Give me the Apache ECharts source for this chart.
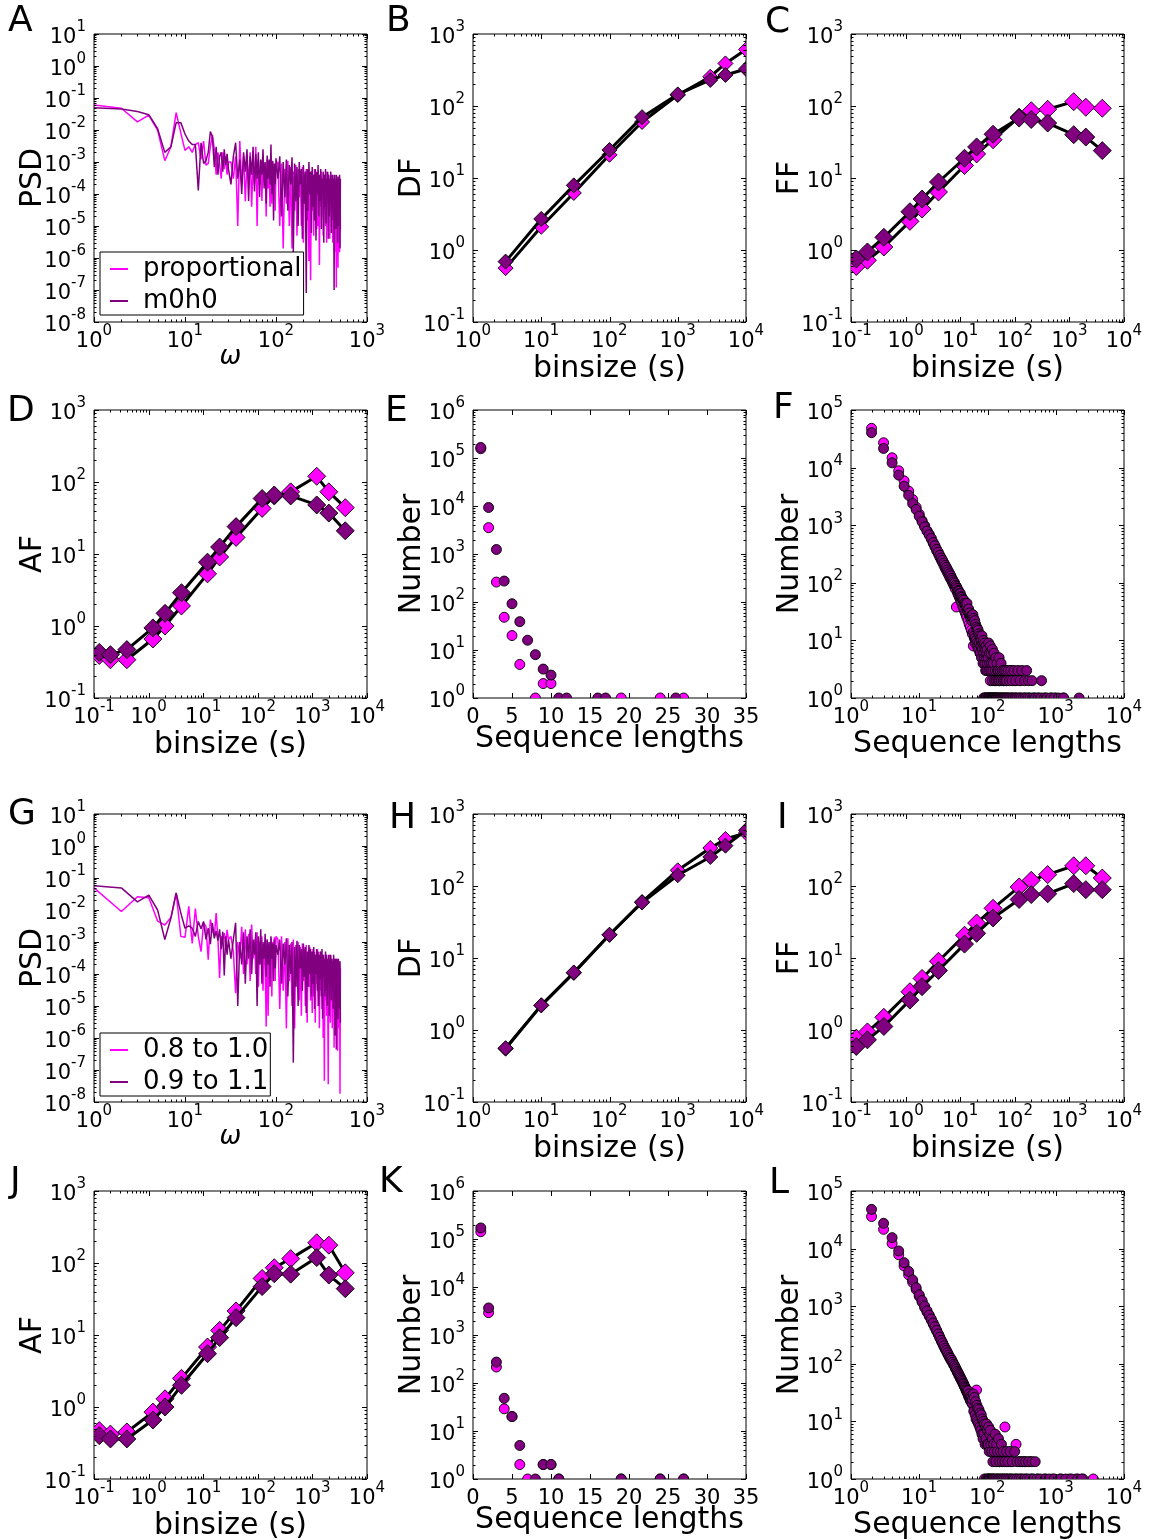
<!DOCTYPE html>
<html>
<head>
<meta charset="utf-8">
<title>Burst statistics</title>
<script src="https://cdn.jsdelivr.net/npm/echarts@6.0.0/dist/echarts.min.js"></script>
<style>
  html, body { margin: 0; padding: 0; background: #fff; }
  #chart { width: 1149px; height: 1540px; }
</style>
</head>
<body>
<div id="chart"></div>
<script>
// ---------------- values ----------------
// Power spectra: frequency grid shared by all four spectra
const psdOmega = [
  1,2,3,4,5,6,7,8,9,10,11,12,13,14,15,16,17,18,19,20,21,22,23,24,25,26,27,28,29,30,
  32,34,36,38,40,42,44,46,48,50,52,54,56,58,60,62,64,66,68,70,72,74,76,78,80,82,84,86,88,90,92,94,96,98,100,
  105,110,115,120,125,130,135,140,145,150,155,160,165,170,175,180,185,190,195,200,
  205,210,215,220,225,230,235,240,245,250,255,260,265,270,275,280,285,290,295,300,
  305,310,315,320,325,330,335,340,345,350,355,360,365,370,375,380,385,390,395,400,
  405,410,415,420,425,430,435,440,445,450,455,460,465,470,475,480,485,490,495,500,505,510
];
const psdProportional = [
  0.06,0.048,0.018,0.029,0.01,0.0011,0.003,0.035,0.008,0.0023,
  0.003,0.002,0.0035,0.004,0.0012,0.0045,0.0008,0.0009,0.003,0.007,
  0.0025,0.0004,0.002,0.0009,0.0003,0.002,0.0006,0.0015,0.0004,0.001,
  1e-3,3e-4,1.5e-3,1e-5,4.5e-3,2e-4,1.5e-3,6e-5,1e-3,3e-4,2e-3,4e-5,1e-3,2e-4,3e-3,1e-5,1.2e-3,2e-4,8e-4,6e-5,
  1.5e-3,3e-4,9e-4,2e-5,1.2e-3,1.5e-4,7e-4,4e-5,1e-3,5e-5,1e-3,2e-4,6e-4,3e-5,8e-4,
  1e-3,1e-5,9e-4,2e-6,6e-4,5e-5,1.1e-3,1e-5,7e-4,2e-6,
  5e-4,3e-5,8e-4,5e-6,6e-4,8e-5,5e-4,1e-5,7e-4,3e-6,
  4e-4,5e-5,6e-4,1.5e-5,5e-4,8e-7,3e-4,2e-7,5e-4,3e-5,
  4e-4,5e-6,6e-4,4e-5,3e-4,8e-6,5e-4,1e-5,4e-4,6e-7,
  3e-4,4e-5,5e-4,2e-5,3e-4,5e-6,4e-4,1e-4,2e-4,1e-5,
  5e-4,3e-6,3e-4,5e-5,4e-4,2e-5,2.5e-4,4e-6,3e-4,7e-5,
  4e-4,1e-5,2e-4,3e-6,3e-4,4e-5,2.5e-4,1.5e-6,3e-4,1e-5,
  2e-4,1.2e-7,3e-4,3e-5,2e-4,5e-7,3e-4,2e-5,3e-4,1.5e-6,
  2e-4,8e-6
];
const psdM0h0 = [
  0.05,0.045,0.038,0.03,0.011,0.002,0.003,0.017,0.017,0.0075,
  0.0045,0.0035,0.0035,0.00013,0.004,0.0009,0.0011,0.002,0.009,0.006,
  0.0007,0.003,0.0004,0.0015,0.002,0.0005,0.0025,0.0008,0.0018,0.0006,
  2e-4,1.5e-3,4e-3,3e-4,1.2e-3,1e-4,2e-3,5e-4,2.5e-3,6e-5,1.5e-3,4e-4,3e-3,1.2e-4,1.8e-3,3e-4,2e-3,8e-5,1.2e-3,4e-4,
  2.5e-3,1.5e-4,1e-3,5e-5,1.6e-3,3e-4,1.2e-3,2e-4,3.5e-3,1e-4,1.1e-3,1.5e-5,9e-4,2e-4,1.3e-3,
  3e-4,1.5e-3,2e-5,1e-3,8e-5,1.2e-3,3e-5,8e-4,2e-4,1.4e-3,
  1.5e-6,9e-4,6e-5,7e-4,1e-5,1e-3,2e-4,6e-4,4e-6,8e-4,
  5e-5,5e-4,8e-8,6e-4,3e-5,1e-3,1e-4,5e-4,6e-6,7e-4,
  4e-5,4e-4,1.5e-5,6e-4,3.5e-6,5e-4,1e-4,8e-4,2e-5,4e-4,
  6e-5,6e-4,8e-6,3e-4,1e-4,5e-4,3e-6,4e-4,4e-5,6e-4,
  1.2e-5,3e-4,7e-5,5e-4,4e-6,4e-4,2e-5,3e-4,8e-5,5e-4,
  6e-6,3e-4,3e-5,4e-4,1.5e-5,3e-4,1e-7,4e-4,5e-5,2.5e-4,
  8e-6,4e-4,2e-5,3e-4,3e-6,3.5e-4,6e-5,2.5e-4,1e-5,4e-4,
  2e-6,3e-4
];
const psdRange08 = [
  0.049,0.009,0.026,0.024,0.0045,0.0034,0.0058,0.034,0.0015,0.0014,
  0.013,0.0009,0.011,0.0015,0.0005,0.0039,0.0031,0.00028,0.005,0.0024,
  0.0015,0.008,0.0013,0.000075,0.0015,0.0012,0.0019,0.0007,0.0024,0.0012,
  1.5e-3,5e-4,2.5e-5,1e-3,3e-4,3e-3,1e-4,2.5e-3,2e-4,1.8e-3,6e-5,3.5e-3,3e-4,1.2e-3,1e-4,2e-3,4e-5,1e-3,2e-4,1.5e-3,
  3e-5,8e-4,2e-4,2.3e-6,1.2e-3,5e-6,9e-4,1e-4,1.3e-3,2e-5,1e-3,3e-4,1.4e-3,6e-5,1.5e-3,
  1.2e-3,8e-6,1.5e-3,3e-5,1e-3,2e-6,1.3e-3,6e-5,9e-4,1e-5,
  1.2e-3,2e-6,8e-4,4e-5,1e-3,1.5e-5,7e-4,5e-6,9e-4,6e-5,
  6e-4,1e-5,8e-4,3e-6,5e-4,4e-5,7e-4,1.5e-5,4e-4,6e-6,
  6e-4,2e-5,5e-4,3e-6,4e-4,5e-5,6e-4,1e-5,3e-4,2e-6,
  5e-4,3e-5,4e-4,8e-6,3e-4,1e-6,4e-4,4.6e-8,3e-4,1.5e-5,
  4e-4,5e-6,3e-4,2e-5,3.6e-8,3e-4,1e-5,4e-4,3e-6,3e-4,
  4e-5,3e-4,2e-6,2.5e-4,1e-5,3e-4,5e-7,2e-4,2e-5,3e-4,
  3e-6,2.5e-4,1e-5,3e-4,4e-7,2e-4,3e-5,2.5e-4,2e-6,2e-4,
  1.8e-8,1.5e-4
];
const psdRange09 = [
  0.057,0.049,0.018,0.029,0.01,0.0012,0.0056,0.034,0.008,0.0027,
  0.0032,0.0027,0.0015,0.0044,0.0026,0.0044,0.0012,0.0027,0.00085,0.0039,
  0.0013,0.0022,0.0011,0.0025,0.0006,0.0021,0.00009,0.0015,0.0004,0.0012,
  3e-4,1.2e-3,4e-3,1e-5,1e-3,2e-4,2e-3,5e-5,1.5e-3,3e-4,2.5e-3,1e-4,1.2e-3,4e-4,2e-3,1e-5,1.5e-3,2e-4,2.5e-3,5e-5,
  1e-3,3e-4,1.8e-3,8e-5,1.2e-3,2e-4,1e-3,4e-5,1.5e-3,3e-4,9e-4,6e-5,1.2e-3,1.5e-4,8e-4,
  4e-4,1.2e-3,5e-5,9e-4,2e-4,1.3e-3,2e-5,8e-4,1e-4,1e-3,
  1.7e-7,7e-4,4e-5,1.1e-3,1e-5,8e-4,1.5e-4,6e-4,3e-5,9e-4,
  8e-5,7e-4,6e-6,5e-4,4e-5,8e-4,1e-4,6e-4,2e-5,5e-4,
  5e-5,7e-4,8e-6,4e-4,1e-4,6e-4,3e-5,5e-4,1e-5,4e-4,
  7e-5,5e-4,2e-5,6e-4,4e-6,4e-4,8e-5,3e-4,2e-5,5e-4,
  3e-5,4e-4,1e-5,3e-4,6e-5,4e-4,5e-6,3e-4,4e-5,4e-4,
  1.5e-5,3e-4,6e-5,2.5e-4,8e-6,4e-4,3e-5,3e-4,1.2e-6,3e-4,
  2e-5,4.4e-7,3e-4,3e-5,2.5e-4,4e-6,3e-4,2e-5,2e-4,8e-6,
  2.5e-4,3e-6
];

// Dispersion (DF) against bin size
const dfBins = [3, 10, 30, 100, 300, 1000, 3000, 5000, 10000];
const dfProportional = [0.56, 2.1, 6.2, 21, 60, 142, 255, 390, 610];
const dfM0h0         = [0.69, 2.7, 7.9, 24.5, 70, 145, 230, 270, 327];
const dfRange08      = [0.55, 2.2, 6.2, 21, 60, 165, 337, 450, 545];
const dfRange09      = [0.56, 2.2, 6.3, 21, 59, 141, 253, 363, 593];

// Fano (FF) and Allan (AF) factors against bin size
const fBins = [0.125, 0.2, 0.4, 1.2, 2, 4, 12, 20, 40, 120, 200, 400, 1200, 2000, 4000];
const ffProportional = [0.59, 0.72, 1.1, 2.5, 3.7, 6.4, 14.9, 21.6, 34, 70, 86, 90, 115, 96, 93];
const ffM0h0         = [0.75, 0.94, 1.5, 3.4, 5.1, 8.8, 18.8, 27, 40.5, 68, 65, 58, 40, 37, 24];
const afProportional = [0.39, 0.34, 0.34, 0.66, 1.0, 1.9, 5.3, 9.1, 17, 43, 64, 73, 120, 73, 44];
const afM0h0         = [0.43, 0.40, 0.47, 0.94, 1.5, 2.9, 7.7, 12.5, 24, 59, 66, 64, 48, 37, 21];
const ffRange08      = [0.77, 0.94, 1.5, 3.4, 5.2, 9.0, 20.7, 30.6, 49, 97, 120, 144, 191, 191, 129];
const ffRange09      = [0.59, 0.73, 1.12, 2.6, 4.0, 6.7, 15.6, 22, 36, 65, 76, 78, 108, 89, 89];
const afRange08      = [0.47, 0.42, 0.45, 0.85, 1.3, 2.5, 6.8, 11.6, 21.6, 61, 86, 115, 191, 177, 73];
const afRange09      = [0.40, 0.36, 0.36, 0.66, 1.0, 2.0, 5.5, 9.2, 17.4, 47, 71, 70, 119, 68, 44];

// Sequence-length histograms, [length, number]
const seqShortProportional = [[1,156000],[2,3540],[3,260],[4,48],[5,20],[6,5],[8,1],[9,2],[10,2],[19,1],[24,1],[27,1]];
const seqShortM0h0 = [[1,166000],[2,9300],[3,1240],[4,273],[5,92],[6,39],[7,16],[8,8],[9,4],[10,3],[11,1],[12,1],[16,1],[17,1],[26,1]];
const seqShortRange08 = [[1,142000],[2,2920],[3,215],[4,29],[5,20],[6,2],[7,1],[9,2],[10,2],[11,1],[19,1],[24,1],[27,1]];
const seqShortRange09 = [[1,170000],[2,3660],[3,273],[4,48],[5,20],[6,5],[8,1],[9,2],[10,2],[11,1],[19,1],[24,1],[27,1]];

const seqLongProportional = [
  [2,48000],[3,27000],[4,14800],[5,8800],[6,5900],[7,3900],[8,2800],[9,2050],[10,1550],[11,1200],[12,980],[13,800],[14,690],[15,580],
  [16,490],[17,420],[18,360],[19,320],[20,280],[21,250],[22,225],[23,200],[24,180],[25,165],[26,150],[27,138],[28,125],[29,118],[30,108],
  [31,100],[32,92],[33,85],[34,78],[35,38],[36,70],[37,64],[38,60],[39,55],[40,52],[41,48],[42,45],[43,41],[44,38],[45,36],[46,33],[47,31],
  [48,29],[49,27],[50,25],[52,22],[54,19],[56,17],[58,15],[60,13],[62,8],[64,11],[66,9],[68,12],[70,8],[72,10],[75,7],[78,6],[80,9],
  [83,5],[86,7],[90,4],[95,6],[100,3],[105,5],[110,2],[115,4],[120,3],[130,2],[140,3],[150,2],[170,2],[190,2],[220,3],[250,2],[300,2],
  [90,1],[95,1],[100,1],[110,1],[125,1],[140,1],[160,1],[180,1],[200,1],[230,1],[260,1],[300,1],[350,1],[400,1],[480,1],[560,1],[700,1],
  [850,1],[1000,1],[1300,1]
];
const seqLongM0h0 = [
  [2,40400],[3,21500],[4,12100],[5,7400],[6,4760],[7,3300],[8,2380],[9,1870],[10,1430],[11,1150],[12,935],[13,790],[14,680],[15,590],
  [16,500],[17,440],[18,380],[19,340],[20,300],[21,270],[22,245],[23,220],[24,200],[25,185],[26,168],[27,155],[28,143],[29,133],[30,120],
  [31,112],[32,104],[33,99],[34,90],[35,86],[36,80],[37,74],[38,71],[39,66],[40,65],[41,58],[42,56],[43,52],[44,49],[45,50],[46,44],
  [47,41],[48,43],[49,37],[50,44],[51,34],[52,31],[53,35],[54,28],[55,30],[56,26],[57,24],[58,27],[59,22],[60,25],
  [61,28],[62,14],[63,24],[64,12],[65,22],[66,11],[67,19],[68,10],[69,17],[70,9],[71,16],[72,8],[73,15],[74,7],[75,13],[76,9],
  [77,12],[78,6],[79,11],[80,8],[81,10],[82,5],[83,12],[84,7],[85,9],[86,4],[87,10],[88,6],[89,8],[90,5],[91,9],[92,4],[93,7],[94,3],
  [95,8],[96,5],[97,6],[98,3],[99,7],[100,4],
  [102,5],[104,9],[105,3],[107,6],[108,4],[110,8],[112,3],[113,6],[115,4],[117,2],[118,7],[120,3],[122,4],[125,6],[127,2],[130,3],
  [132,5],[135,2],[138,4],[140,3],[143,2],[145,3],[148,5],[150,2],[155,3],[158,4],[160,2],[165,3],[170,2],[175,3],[180,2],[185,3],
  [190,2],[200,3],[210,2],[220,3],[230,2],[245,3],[260,2],[280,3],[300,2],[320,3],[350,2],[375,3],[400,2],[450,2],[620,2],
  [88,1],[92,1],[96,1],[101,1],[103,1],[106,1],[109,1],[111,1],[114,1],[116,1],[119,1],[121,1],[124,1],[128,1],[131,1],[134,1],
  [137,1],[142,1],[146,1],[151,1],[156,1],[162,1],[168,1],[174,1],[181,1],[188,1],[195,1],[205,1],[215,1],[228,1],[240,1],[255,1],
  [270,1],[290,1],[310,1],[335,1],[360,1],[390,1],[420,1],[460,1],[500,1],[550,1],[610,1],[680,1],[750,1],[850,1],[950,1],[1100,1],
  [1300,1],[2200,1]
];
const seqLongRange08 = [
  [2,36000],[3,21600],[4,12300],[5,7800],[6,5000],[7,3500],[8,2600],[9,1950],[10,1480],[11,1180],[12,950],[13,790],[14,670],[15,575],
  [16,490],[17,425],[18,370],[19,325],[20,285],[21,250],[22,225],[23,200],[24,180],[25,165],[26,150],[27,138],[28,127],[29,118],[30,110],
  [32,95],[34,82],[36,72],[38,63],[40,56],[42,50],[44,45],[46,40],[48,36],[50,32],[53,27],[56,23],[60,20],[64,17],[69,35],[70,14],
  [75,11],[80,8],[85,10],[90,6],[95,8],[100,5],[110,4],[120,6],[130,3],[140,5],[150,2],[170,3],[180,8],[190,2],[220,2],[262,4],[300,2],
  [350,2],[420,2],
  [90,1],[105,1],[120,1],[140,1],[165,1],[190,1],[220,1],[260,1],[310,1],[370,1],[450,1],[550,1],[700,1],[900,1],[1200,1],[1600,1],
  [2000,1],[2500,1],[3550,1]
];
const seqLongRange09 = [
  [2,48000],[3,27500],[4,15500],[5,9100],[6,5700],[7,4000],[8,2850],[9,2100],[10,1570],[11,1250],[12,1000],[13,830],[14,700],[15,600],
  [16,510],[17,440],[18,380],[19,330],[20,290],[21,255],[22,230],[23,205],[24,185],[25,170],[26,155],[27,142],[28,130],[29,124],[30,115],
  [31,106],[32,98],[33,92],[34,85],[35,80],[36,74],[37,70],[38,66],[39,62],[40,58],[41,55],[42,52],[43,49],[44,46],[45,44],[46,41],
  [47,39],[48,37],[49,35],[50,33],[51,31],[52,34],[53,28],[54,30],[55,25],[56,27],[57,23],[58,26],[59,21],[60,24],
  [62,30],[63,15],[64,26],[66,13],[67,22],[68,11],[70,19],[71,10],[72,17],[74,9],[75,16],[77,8],[78,14],[80,7],[81,13],[83,6],
  [84,11],[86,5],[87,10],[89,6],[90,9],[92,4],[94,8],[95,5],[97,9],[99,4],[100,7],
  [102,4],[104,8],[106,3],[108,6],[110,7],[112,4],[115,3],[118,5],[120,2],[123,4],[126,3],[130,6],[133,2],[136,4],[140,3],[145,5],
  [150,2],[155,3],[160,4],[165,2],[170,3],[180,2],[190,3],[200,2],[215,3],[230,2],[250,3],[270,2],[300,2],[330,2],[360,2],[400,2],
  [450,2],[500,2],
  [95,1],[100,1],[103,1],[107,1],[111,1],[116,1],[121,1],[127,1],[134,1],[142,1],[149,1],[158,1],[167,1],[177,1],[188,1],[200,1],
  [214,1],[230,1],[248,1],[268,1],[290,1],[315,1],[345,1],[380,1],[420,1],[470,1],[530,1],[600,1],[700,1],[800,1],[950,1],[1150,1],
  [1400,1],[1700,1],[2100,1],[2400,1]
];

// ---------------- styling ----------------
const FONT = 'DejaVu Sans';
const PINK = '#ff00ff';
const PURPLE = '#800080';
const MAJOR_TICK = 5;
const MINOR_TICK = 2.5;

const COL_X = [94, 473, 851];
const ROW_Y = [34, 410, 814, 1191];
const PLOT_W = 273;
const PLOT_H = 288;

const AXES = {
  psd:    { x: [1, 1000],  y: [1e-8, 10],  xName: 'ω', yName: 'PSD', nameGap: 22 },
  df:     { x: [1, 1e4],   y: [0.1, 1000], xName: 'binsize (s)', yName: 'DF', nameGap: 32 },
  ff:     { x: [0.1, 1e4], y: [0.1, 1000], xName: 'binsize (s)', yName: 'FF', nameGap: 32 },
  af:     { x: [0.1, 1e4], y: [0.1, 1000], xName: 'binsize (s)', yName: 'AF', nameGap: 32 },
  seq:    { x: [0, 35],    y: [1, 1e6],    xName: 'Sequence lengths', yName: 'Number', linearX: true, step: 5, nameGap: 26 },
  seqLog: { x: [1, 1e4],   y: [1, 1e5],    xName: 'Sequence lengths', yName: 'Number', nameGap: 31 }
};

// panel letter, axes kind, column, row, letter anchor
const PANELS = [
  { letter: 'A', kind: 'psd',    col: 0, row: 0, lx: 8,   ly: 4 },
  { letter: 'B', kind: 'df',     col: 1, row: 0, lx: 386, ly: 4 },
  { letter: 'C', kind: 'ff',     col: 2, row: 0, lx: 765, ly: 5 },
  { letter: 'D', kind: 'af',     col: 0, row: 1, lx: 7,   ly: 394 },
  { letter: 'E', kind: 'seq',    col: 1, row: 1, lx: 385, ly: 394 },
  { letter: 'F', kind: 'seqLog', col: 2, row: 1, lx: 773, ly: 391 },
  { letter: 'G', kind: 'psd',    col: 0, row: 2, lx: 8,   ly: 797 },
  { letter: 'H', kind: 'df',     col: 1, row: 2, lx: 389, ly: 801 },
  { letter: 'I', kind: 'ff',     col: 2, row: 2, lx: 777, ly: 801 },
  { letter: 'J', kind: 'af',     col: 0, row: 3, lx: 10,  ly: 1165 },
  { letter: 'K', kind: 'seq',    col: 1, row: 3, lx: 379, ly: 1165 },
  { letter: 'L', kind: 'seqLog', col: 2, row: 3, lx: 769, ly: 1166 }
];

const labelRich = {
  b: { fontSize: 21, lineHeight: 28, fontFamily: FONT, color: '#000', verticalAlign: 'bottom' },
  s: { fontSize: 15, lineHeight: 15, fontFamily: FONT, color: '#000', verticalAlign: 'top' }
};
const logLabel = v => '{b|10}{s|' + Math.round(Math.log10(v)) + '}';
const plainLabel = v => '{b|' + v + '}';

function logTicks(range) {
  const out = [];
  const lo = Math.floor(Math.log10(range[0]) + 1e-9);
  const hi = Math.ceil(Math.log10(range[1]) - 1e-9);
  for (let d = lo; d <= hi; d++) {
    for (let k = 1; k <= 9; k++) {
      const v = k * Math.pow(10, d);
      if (v < range[0] * (1 - 1e-9) || v > range[1] * (1 + 1e-9)) continue;
      out.push({ v, major: k === 1 });
    }
  }
  return out;
}
function linearTicks(range, step) {
  const out = [];
  for (let v = range[0]; v <= range[1] + 1e-9; v += step) out.push({ v, major: true });
  return out;
}

// ticks on all four sides of a frame, placed through the axis scales
function tickSeries(gi, ax) {
  return {
    type: 'custom', name: 'frame ticks ' + gi, xAxisIndex: gi, yAxisIndex: gi,
    data: [[ax.x[0], ax.y[0]]], encode: { x: 0, y: 1 },
    clip: false, silent: true, z: 10,
    renderItem: (params, api) => {
      const cs = params.coordSys;
      const left = cs.x, right = cs.x + cs.width, top = cs.y, bottom = cs.y + cs.height;
      const children = [];
      const seg = (x1, y1, x2, y2) => children.push({
        type: 'line', shape: { x1, y1, x2, y2 }, style: { stroke: '#000', lineWidth: 1 }
      });
      const xt = ax.linearX ? linearTicks(ax.x, ax.step) : logTicks(ax.x);
      xt.forEach(t => {
        const px = Math.round(api.coord([t.v, ax.y[0]])[0]) + 0.5;
        const L = t.major ? MAJOR_TICK : MINOR_TICK;
        seg(px, bottom, px, bottom - L);
        seg(px, top, px, top + L);
      });
      logTicks(ax.y).forEach(t => {
        const py = Math.round(api.coord([ax.x[0], t.v])[1]) + 0.5;
        const L = t.major ? MAJOR_TICK : MINOR_TICK;
        seg(left, py, left + L, py);
        seg(right, py, right - L, py);
      });
      return { type: 'group', children };
    }
  };
}

// filled markers (diamonds / circles) clipped to the frame
function markerSeries(gi, name, pts, color, shape, size, z) {
  return {
    type: 'custom', name, xAxisIndex: gi, yAxisIndex: gi,
    data: pts, encode: { x: 0, y: 1 }, clip: true, silent: true, z,
    renderItem: (params, api) => {
      const p = api.coord([api.value(0), api.value(1)]);
      const h = size / 2;
      const style = { fill: color, stroke: '#000', lineWidth: 0.9 };
      if (shape === 'diamond') {
        return { type: 'polygon', shape: { points: [[p[0], p[1] - h], [p[0] + h, p[1]], [p[0], p[1] + h], [p[0] - h, p[1]]] }, style };
      }
      return { type: 'circle', shape: { cx: p[0], cy: p[1], r: h }, style };
    }
  };
}

function linkSeries(gi, name, xs, ys, z) {
  return {
    type: 'line', name, xAxisIndex: gi, yAxisIndex: gi,
    data: xs.map((x, i) => [x, ys[i]]),
    symbol: 'none', silent: true, clip: true, z,
    lineStyle: { color: '#000', width: 3 }, itemStyle: { color: '#000' }
  };
}

function spectrumSeries(gi, name, ys, color, z) {
  return {
    type: 'line', name, xAxisIndex: gi, yAxisIndex: gi,
    data: psdOmega.map((w, i) => [w, ys[i]]),
    symbol: 'none', silent: true, clip: true, z,
    lineStyle: { color, width: 1.5 }, itemStyle: { color }
  };
}

const grids = [], xAxes = [], yAxes = [], titles = [], series = [];

PANELS.forEach((p, gi) => {
  const ax = AXES[p.kind];
  grids.push({
    left: COL_X[p.col], top: ROW_Y[p.row], width: PLOT_W, height: PLOT_H,
    show: true, borderColor: '#000', borderWidth: 1, backgroundColor: 'transparent',
    containLabel: false, outerBoundsMode: 'none'
  });
  const isOmega = p.kind === 'psd';
  xAxes.push({
    gridIndex: gi,
    type: ax.linearX ? 'value' : 'log', logBase: 10,
    min: ax.x[0], max: ax.x[1], interval: ax.linearX ? ax.step : undefined,
    name: ax.xName, nameLocation: 'middle', nameGap: ax.nameGap, nameMoveOverlap: false,
    nameTextStyle: { fontSize: isOmega ? 26 : 30, fontStyle: isOmega ? 'italic' : 'normal', fontFamily: FONT, color: '#000' },
    axisLine: { show: false }, axisTick: { show: false }, minorTick: { show: false },
    splitLine: { show: false }, minorSplitLine: { show: false },
    axisLabel: {
      show: true, margin: 2, showMinLabel: true, showMaxLabel: true, hideOverlap: false,
      formatter: ax.linearX ? plainLabel : logLabel, rich: labelRich
    }
  });
  yAxes.push({
    gridIndex: gi, type: 'log', logBase: 10, min: ax.y[0], max: ax.y[1],
    name: ax.yName, nameLocation: 'middle', nameGap: 46, nameRotate: 90, nameMoveOverlap: false,
    nameTextStyle: { fontSize: 30, fontFamily: FONT, color: '#000' },
    axisLine: { show: false }, axisTick: { show: false }, minorTick: { show: false },
    splitLine: { show: false }, minorSplitLine: { show: false },
    axisLabel: {
      show: true, margin: 8, showMinLabel: true, showMaxLabel: true, hideOverlap: false,
      formatter: logLabel, rich: labelRich
    }
  });
  titles.push({
    text: p.letter, left: p.lx, top: p.ly, padding: 0,
    textStyle: { fontSize: 36, fontWeight: 'normal', fontFamily: FONT, color: '#000' }
  });
  series.push(tickSeries(gi, ax));
});

// A, G: power spectra
series.push(spectrumSeries(0, 'proportional', psdProportional, PINK, 2));
series.push(spectrumSeries(0, 'm0h0', psdM0h0, PURPLE, 3));
series.push(spectrumSeries(6, '0.8 to 1.0', psdRange08, PINK, 2));
series.push(spectrumSeries(6, '0.9 to 1.1', psdRange09, PURPLE, 3));

// B, C, D, H, I, J: factor curves with diamonds
function factorPanel(gi, xs, pinkVals, purpleVals, size, tag) {
  series.push(linkSeries(gi, tag + ' pink link', xs, pinkVals, 2));
  series.push(markerSeries(gi, tag + ' pink', xs.map((x, i) => [x, pinkVals[i]]), PINK, 'diamond', size, 3));
  series.push(linkSeries(gi, tag + ' purple link', xs, purpleVals, 4));
  series.push(markerSeries(gi, tag + ' purple', xs.map((x, i) => [x, purpleVals[i]]), PURPLE, 'diamond', size, 5));
}
factorPanel(1, dfBins, dfProportional, dfM0h0, 15, 'DF top');
factorPanel(2, fBins, ffProportional, ffM0h0, 18, 'FF top');
factorPanel(3, fBins, afProportional, afM0h0, 18, 'AF top');
factorPanel(7, dfBins, dfRange08, dfRange09, 15, 'DF bottom');
factorPanel(8, fBins, ffRange08, ffRange09, 18, 'FF bottom');
factorPanel(9, fBins, afRange08, afRange09, 18, 'AF bottom');

// E, F, K, L: sequence histograms
function histPanel(gi, pinkPts, purplePts, tag) {
  series.push(markerSeries(gi, tag + ' pink', pinkPts, PINK, 'circle', 10, 3));
  series.push(markerSeries(gi, tag + ' purple', purplePts, PURPLE, 'circle', 10, 5));
}
histPanel(4, seqShortProportional, seqShortM0h0, 'short top');
histPanel(5, seqLongProportional, seqLongM0h0, 'long top');
histPanel(10, seqShortRange08, seqShortRange09, 'short bottom');
histPanel(11, seqLongRange08, seqLongRange09, 'long bottom');

const legendBase = {
  orient: 'vertical', left: 100, itemWidth: 18, itemHeight: 2, itemGap: 6, icon: 'rect',
  padding: [4, 2, 1, 10], borderColor: '#000', borderWidth: 1, borderRadius: 0,
  backgroundColor: '#fff', selectedMode: false, z: 20,
  textStyle: { fontSize: 26, fontFamily: FONT, color: '#000', padding: [0, 0, 0, 10] }
};

const option = {
  animation: false,
  backgroundColor: '#fff',
  title: titles,
  grid: grids,
  xAxis: xAxes,
  yAxis: yAxes,
  legend: [
    Object.assign({}, legendBase, { top: 252, data: ['proportional', 'm0h0'] }),
    Object.assign({}, legendBase, { top: 1033, data: ['0.8 to 1.0', '0.9 to 1.1'] })
  ],
  series
};

const chart = echarts.init(document.getElementById('chart'), null, { renderer: 'canvas', width: 1149, height: 1540 });
chart.setOption(option);
</script>
</body>
</html>
